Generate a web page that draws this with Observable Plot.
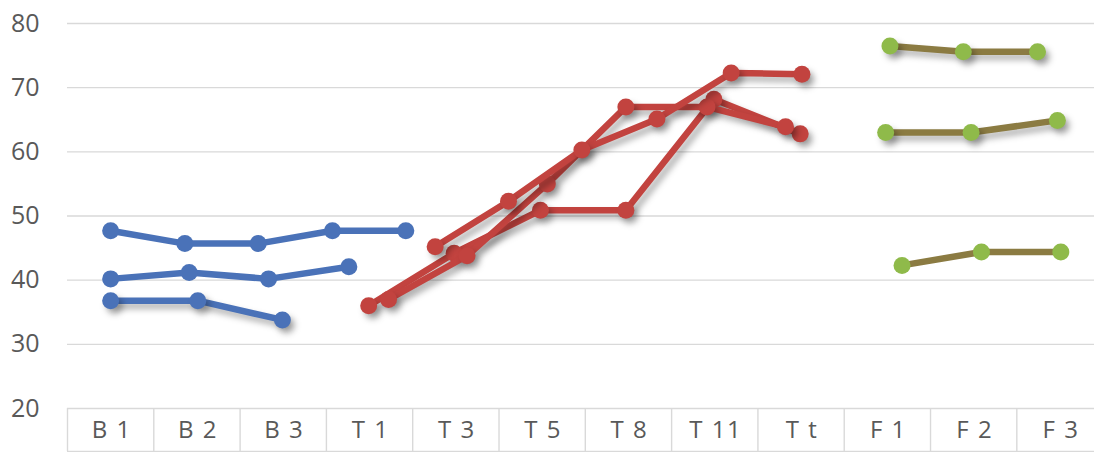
<!DOCTYPE html>
<html><head><meta charset="utf-8">
<script src="https://cdn.jsdelivr.net/npm/d3@7"></script>
<script src="https://cdn.jsdelivr.net/npm/@observablehq/plot@0.6"></script>
<style>
  html,body{margin:0;padding:0;background:#fff;overflow:hidden;}
  #chart svg{display:block;}
  #chart g[aria-label="y-axis tick label"] text {font-size:25px;}
  #chart g[aria-label="x-axis tick label"] text {font-size:24px; letter-spacing:1.5px;}
</style>
</head><body><div id="chart"></div>
<script>
// Categories along the bottom table
const categories = ["B 1","B 2","B 3","T 1","T 3","T 5","T 8","T 11","T t","F 1","F 2","F 3"];
const yTicks = [20, 30, 40, 50, 60, 70, 80];

// Positions are in category units (0 = left edge of "B 1")
const blue1X = [0.50, 1.36, 2.21, 3.07, 3.92];
const blue1Y = [47.7, 45.7, 45.7, 47.7, 47.7];
const blue2X = [0.50, 1.41, 2.33, 3.26];
const blue2Y = [40.2, 41.2, 40.2, 42.1];
const blue3X = [0.50, 1.51, 2.49];
const blue3Y = [36.8, 36.8, 33.8];

const red1X = [3.49, 4.48, 5.48, 6.47, 7.49, 8.49];
const red1Y = [36.0, 44.2, 50.9, 50.9, 68.2, 62.8];
const red2X = [3.72, 4.63, 5.56, 6.47, 7.41, 8.32];
const red2Y = [37.0, 43.8, 55.0, 67.0, 67.0, 63.9];
const red3X = [4.26, 5.11, 5.96, 6.83, 7.69, 8.51];
const red3Y = [45.2, 52.3, 60.3, 65.1, 72.3, 72.1];

const green1X = [9.53, 10.38, 11.24];
const green1Y = [76.5, 75.6, 75.6];
const green2X = [9.48, 10.47, 11.47];
const green2Y = [63.0, 63.0, 64.9];
const green3X = [9.67, 10.59, 11.51];
const green3Y = [42.3, 44.4, 44.4];

const BLUE = "#4a72b8", RED = "#c2433f", GREEN_DOT = "#8fba4a", GREEN_LINE = "#8b7b42";

const series = [
  {xs: blue1X, ys: blue1Y, line: BLUE, dot: BLUE, shadow: false},
  {xs: blue2X, ys: blue2Y, line: BLUE, dot: BLUE, shadow: false},
  {xs: blue3X, ys: blue3Y, line: BLUE, dot: BLUE, shadow: true},
  {xs: red1X, ys: red1Y, line: RED, dot: RED, shadow: true},
  {xs: red2X, ys: red2Y, line: RED, dot: RED, shadow: true},
  {xs: red3X, ys: red3Y, line: RED, dot: RED, shadow: true},
  {xs: green1X, ys: green1Y, line: GREEN_LINE, dot: GREEN_DOT, shadow: true},
  {xs: green2X, ys: green2Y, line: GREEN_LINE, dot: GREEN_DOT, shadow: true},
  {xs: green3X, ys: green3Y, line: GREEN_LINE, dot: GREEN_DOT, shadow: false}
];

const boundaries = categories.map((c, i) => i);
const centers = categories.map((c, i) => i + 0.5);
const GRID = "#d9d9d9";

const marks = [
  Plot.gridY({ticks: yTicks, stroke: GRID, strokeOpacity: 1, strokeWidth: 1.4}),
  Plot.ruleY([20], {dy: 43, stroke: GRID, strokeWidth: 1.4}),
  Plot.axisY({ticks: yTicks, tickSize: 0, tickPadding: 28, fontSize: 25, label: null, tickFormat: d => String(d)}),
  Plot.axisX({ticks: boundaries, tickSize: 43, stroke: GRID, strokeWidth: 1.4, label: null, tickFormat: () => ""}),
  Plot.axisX({ticks: centers, tickSize: 0, tickPadding: 12, fontSize: 24, dx: 1, label: null, tickFormat: d => categories[Math.floor(d)]})
];

series.forEach(s => {
  const rows = s.xs.map((x, i) => ({x, y: s.ys[i]}));
  marks.push(Plot.line(rows, {x: "x", y: "y", stroke: s.line, strokeWidth: 6.5, strokeLinejoin: "round"}));
  marks.push(Plot.dot(rows, {x: "x", y: "y", r: 8.5, fill: s.dot, stroke: "none"}));
});

const chart = Plot.plot({
  width: 1094,
  height: 452,
  marginLeft: 67,
  marginRight: 0,
  marginTop: 23,
  marginBottom: 44,
  x: {type: "linear", domain: [0, 11.9]},
  y: {type: "linear", domain: [20, 80]},
  style: {fontFamily: "'Open Sans', sans-serif", fontSize: "23px", color: "#595959", background: "#fff"},
  marks
});

const lineGroups = chart.querySelectorAll('g[aria-label="line"]');
const dotGroups = chart.querySelectorAll('g[aria-label="dot"]');
series.forEach((s, i) => {
  if (s.shadow) {
    const f = "drop-shadow(4px 5px 3px rgba(0,0,0,0.3))";
    if (lineGroups[i]) lineGroups[i].style.filter = f;
    if (dotGroups[i]) dotGroups[i].style.filter = f;
  }
});

document.getElementById("chart").appendChild(chart);
</script>
</body></html>
